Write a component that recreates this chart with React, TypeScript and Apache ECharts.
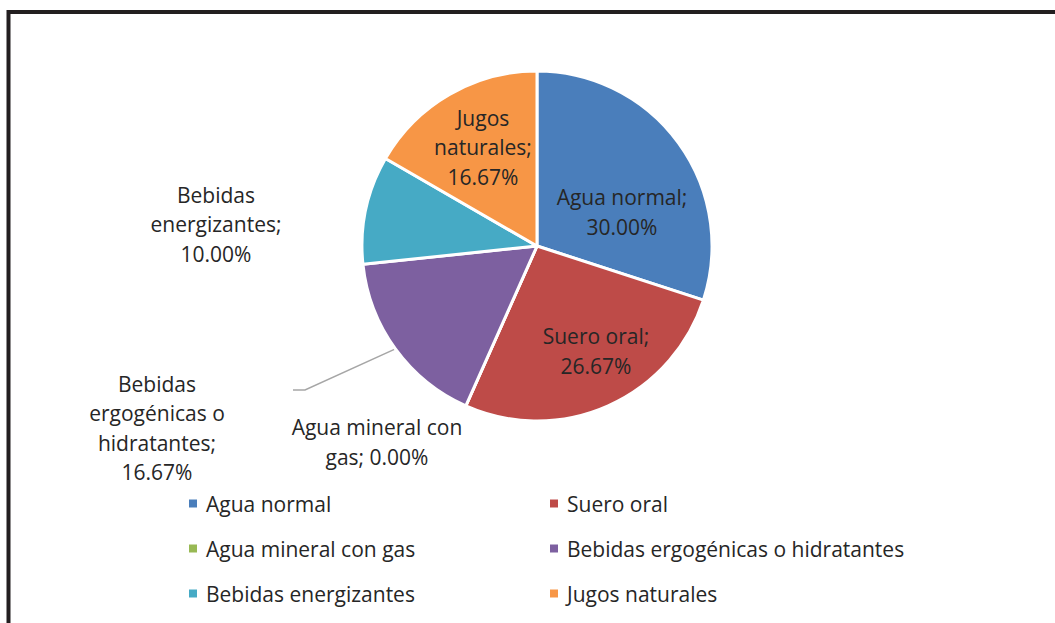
import { useEffect, useRef } from "react";
import * as echarts from "echarts";

const categories = [
  "Agua normal",
  "Suero oral",
  "Agua mineral con gas",
  "Bebidas ergogénicas o hidratantes",
  "Bebidas energizantes",
  "Jugos naturales",
];
const counts = [9, 8, 0, 5, 3, 5];
const colors = ["#4A7EBB", "#BE4B48", "#98B954", "#7D60A0", "#46AAC5", "#F79646"];
const labelNameLines = [
  "Agua normal;",
  "Suero oral;",
  "Agua mineral con\ngas;",
  "Bebidas\nergogénicas o\nhidratantes;",
  "Bebidas\nenergizantes;",
  "Jugos\nnaturales;",
];
const percentSameLine = [false, false, true, false, false, false];

const FONT = "'Open Sans', Lato, sans-serif";
const FS = 21;
const TEXT = "#262626";
const CX = 537;
const CY = 246;
const R = 175;
// label centres (layout)
const labelPos: [number, number][] = [
  [622, 212],
  [596, 351],
  [377, 442],
  [157, 428],
  [216, 224],
  [483, 147],
];

export default function App() {
  const ref = useRef<HTMLDivElement>(null);
  useEffect(() => {
    if (!ref.current) return;
    const chart = echarts.init(ref.current, undefined, { renderer: "svg" });
    const total = counts.reduce((a, b) => a + b, 0);
    let acc = 0;
    const mids: number[] = [];
    counts.forEach((c) => {
      mids.push(((acc + c / 2) / total) * Math.PI * 2);
      acc += c;
    });
    chart.setOption({
      animation: false,
      textStyle: { fontFamily: FONT },
      graphic: [
        {
          type: "rect",
          shape: { x: 8.5, y: 12, width: 1200, height: 800 },
          style: { fill: "none", stroke: "#231F20", lineWidth: 4 },
          silent: true,
        },
      ],
      legend: {
        left: 187,
        top: 486,
        padding: 0,
        width: 720,
        icon: "rect",
        itemWidth: 10,
        itemHeight: 10,
        itemGap: 10,
        data: categories,
        textStyle: {
          fontFamily: FONT,
          fontSize: FS,
          color: TEXT,
          width: 332,
          lineHeight: 35,
          padding: [0, 0, 0, 3],
        },
      },
      series: [
        {
          type: "pie",
          center: [CX, CY],
          radius: R,
          startAngle: 90,
          clockwise: true,
          avoidLabelOverlap: false,
          minShowLabelAngle: 0,
          itemStyle: { borderColor: "#ffffff", borderWidth: 3 },
          label: {
            show: true,
            position: "outside",
            fontFamily: FONT,
            fontSize: FS,
            lineHeight: 29.5,
            color: TEXT,
            align: "center",
            formatter: (p: any) => {
              const pct = ((p.value / total) * 100).toFixed(2) + "%";
              return labelNameLines[p.dataIndex] + (percentSameLine[p.dataIndex] ? " " : "\n") + pct;
            },
          },
          labelLine: { show: false },
          labelLayout: (p: any) => {
            const i = p.dataIndex;
            const [x, y] = labelPos[i];
            const res: any = { x, y, align: "center", verticalAlign: "middle" };
            if (i === 3) {
              const a = mids[i];
              res.labelLinePoints = [
                [CX + R * Math.sin(a), CY - R * Math.cos(a)],
                [305, 390],
                [293, 390],
              ];
            }
            return res;
          },
          data: categories.map((name, i) => ({
            name,
            value: counts[i],
            itemStyle: { color: colors[i] },
            labelLine:
              i === 3
                ? { show: true, lineStyle: { color: "#A6A6A6", width: 1.5 } }
                : { show: false },
          })),
        },
      ],
    });
    return () => chart.dispose();
  }, []);
  return (
    <div
      ref={ref}
      style={{ position: "absolute", left: 0, top: 0, width: 1055, height: 623, background: "#fff" }}
    />
  );
}
